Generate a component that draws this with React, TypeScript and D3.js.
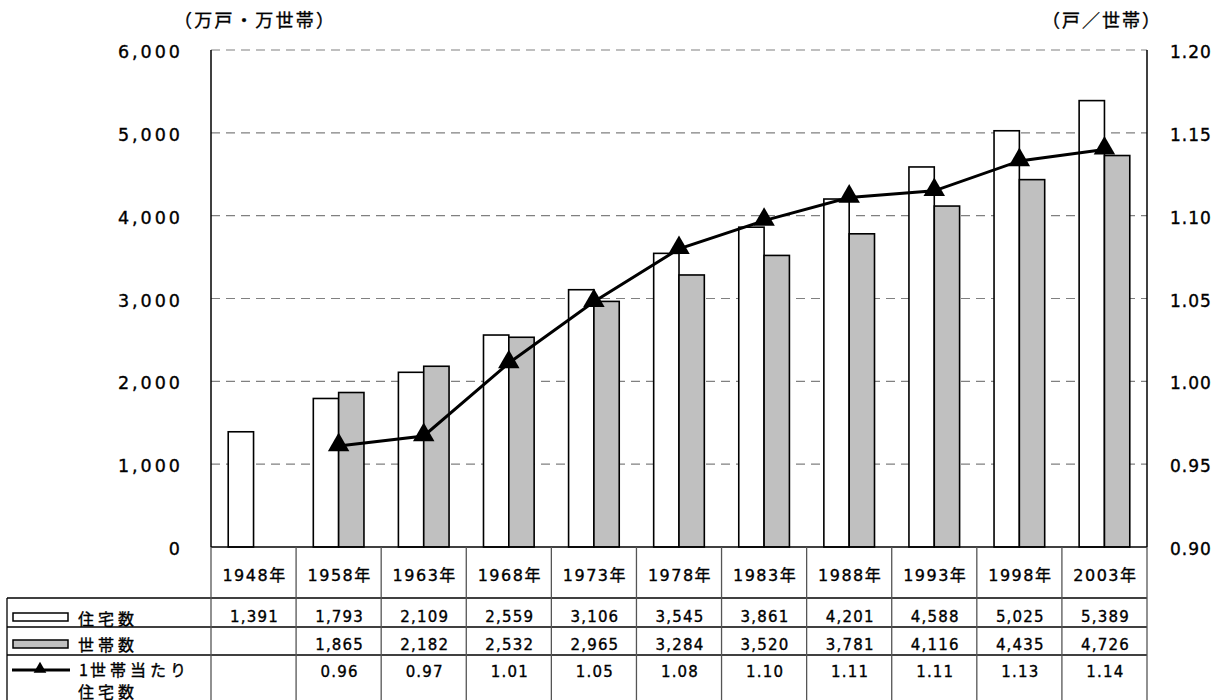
import React from "react";
import * as d3 from "d3";

const years = ["1948年", "1958年", "1963年", "1968年", "1973年", "1978年", "1983年", "1988年", "1993年", "1998年", "2003年"];
const houses: (number | null)[] = [1391, 1793, 2109, 2559, 3106, 3545, 3861, 4201, 4588, 5025, 5389];
const households: (number | null)[] = [null, 1865, 2182, 2532, 2965, 3284, 3520, 3781, 4116, 4435, 4726];
const ratio: (number | null)[] = [null, 0.961, 0.967, 1.011, 1.048, 1.080, 1.097, 1.111, 1.115, 1.133, 1.140];
const ratioLabels = ["", "0.96", "0.97", "1.01", "1.05", "1.08", "1.10", "1.11", "1.11", "1.13", "1.14"];
const leftTicks = [0, 1000, 2000, 3000, 4000, 5000, 6000];
const rightTicks = [0.9, 0.95, 1.0, 1.05, 1.1, 1.15, 1.2];

const W = 1227, H = 700;
const L = 211, R = 1147, T = 50, B = 547;
const FONT = "'DejaVu Sans', 'Noto Sans CJK JP', sans-serif";
const JFONT = "'Noto Sans CJK JP', sans-serif";

export default function App() {
  const x = d3.scaleBand<string>().domain(years).range([L, R]).padding(0);
  const x1 = d3.scaleBand<string>().domain(["h", "hh"]).range([0, x.bandwidth()]).paddingInner(0).paddingOuter(0.68);
  const y = d3.scaleLinear().domain([0, 6000]).range([B, T]);
  const y2 = d3.scaleLinear().domain([0.9, 1.2]).range([B, T]);

  const pts = years
    .map((yr, i) => ({ yr, v: ratio[i] }))
    .filter((d) => d.v != null) as { yr: string; v: number }[];
  const line = d3
    .line<{ yr: string; v: number }>()
    .x((d) => (x(d.yr) as number) + x.bandwidth() / 2)
    .y((d) => y2(d.v));
  const tri = d3.symbol().type(d3.symbolTriangle).size(200)();
  const triSmall = d3.symbol().type(d3.symbolTriangle).size(70)();

  const fmt = d3.format(",");
  const tw = { stroke: "#000", strokeWidth: 0.35 };

  return (
    <div style={{ position: "absolute", left: 0, top: 0 }}>
      <svg width={W} height={H} style={{ display: "block", background: "#fff" }}>
        {/* units */}
        <text x={174} y={27} fontFamily={JFONT} fontSize={18} letterSpacing={2.3} fill="#000" {...tw}>（万戸・万世帯）</text>
        <text x={1042} y={27} fontFamily={JFONT} fontSize={18} letterSpacing={2} fill="#000" {...tw}>（戸／世帯）</text>

        {/* grid */}
        {leftTicks.filter((t) => t > 0).map((t) => (
          <line key={t} x1={L} x2={R} y1={y(t)} y2={y(t)} stroke="#808080" strokeWidth={1.2} strokeDasharray="9,6" />
        ))}

        {/* left axis labels */}
        {leftTicks.map((t) => (
          <text key={t} x={183} y={y(t) + 8} textAnchor="end" fontFamily={FONT} fontSize={17.5} letterSpacing={3} fill="#000" {...tw}>
            {fmt(t)}
          </text>
        ))}
        {rightTicks.map((t) => (
          <text key={t} x={1170} y={y2(t) + 8} textAnchor="start" fontFamily={FONT} fontSize={17} letterSpacing={1} fill="#000" {...tw}>
            {t.toFixed(2)}
          </text>
        ))}

        {/* bars */}
        {years.map((yr, i) => {
          const gx = x(yr) as number;
          return (
            <g key={yr}>
              {houses[i] != null && (
                <rect x={gx + (x1("h") as number)} y={y(houses[i] as number)} width={x1.bandwidth()} height={B - y(houses[i] as number)} fill="#fff" stroke="#000" strokeWidth={1.6} />
              )}
              {households[i] != null && (
                <rect x={gx + (x1("hh") as number)} y={y(households[i] as number)} width={x1.bandwidth()} height={B - y(households[i] as number)} fill="#c0c0c0" stroke="#000" strokeWidth={1.6} />
              )}
            </g>
          );
        })}

        {/* axes */}
        <line x1={L} x2={L} y1={T} y2={B} stroke="#000" strokeWidth={1.5} />
        <line x1={R} x2={R} y1={T} y2={B} stroke="#000" strokeWidth={1.5} />
        <line x1={L} x2={R} y1={B} y2={B} stroke="#000" strokeWidth={1.5} />

        {/* ratio line */}
        <path d={line(pts) || ""} fill="none" stroke="#000" strokeWidth={3} />
        {pts.map((p) => (
          <path key={p.yr} d={tri || ""} transform={`translate(${(x(p.yr) as number) + x.bandwidth() / 2},${y2(p.v) - 1})`} fill="#000" />
        ))}

        {/* table */}
        {[598, 627, 655].map((yy) => (
          <line key={yy} x1={7} x2={R} y1={yy} y2={yy} stroke="#000" strokeWidth={1.3} />
        ))}
        <line x1={7} x2={7} y1={598} y2={H} stroke="#000" strokeWidth={1.3} />
        {years.map((yr) => (
          <line key={yr} x1={x(yr)} x2={x(yr)} y1={B} y2={H} stroke="#555" strokeWidth={1.3} />
        ))}
        <line x1={R} x2={R} y1={B} y2={H} stroke="#555" strokeWidth={1.3} />

        {years.map((yr, i) => {
          const cx = (x(yr) as number) + x.bandwidth() / 2;
          return (
            <g key={yr} fontFamily={FONT} fontSize={15} fill="#000" textAnchor="middle" {...tw}>
              <text x={cx + 1} y={581} fontSize={16} letterSpacing={1.5}>{yr}</text>
              <text x={cx + 1} y={622} letterSpacing={1.2}>{houses[i] != null ? fmt(houses[i] as number) : ""}</text>
              <text x={cx + 1} y={650} letterSpacing={1.2}>{households[i] != null ? fmt(households[i] as number) : ""}</text>
              <text x={cx + 1} y={677} letterSpacing={1.2}>{ratioLabels[i]}</text>
            </g>
          );
        })}

        {/* legend column */}
        <rect x={13} y={613} width={55} height={8} fill="#fff" stroke="#000" strokeWidth={1.5} />
        <text x={78} y={625} fontFamily={JFONT} fontSize={16} letterSpacing={4} fill="#000" {...tw}>住宅数</text>
        <rect x={13} y={640} width={55} height={8} fill="#c0c0c0" stroke="#000" strokeWidth={1.5} />
        <text x={78} y={651} fontFamily={JFONT} fontSize={16} letterSpacing={4} fill="#000" {...tw}>世帯数</text>
        <line x1={12} x2={70} y1={670} y2={670} stroke="#000" strokeWidth={3} />
        <path d={triSmall || ""} transform="translate(40,669)" fill="#000" />
        <text y={676} fontFamily={JFONT} fontSize={16} letterSpacing={4} fill="#000" {...tw}>
          <tspan x={79}>1</tspan>
          <tspan x={90}>世帯当たり</tspan>
        </text>
        <text x={78} y={698} fontFamily={JFONT} fontSize={16} letterSpacing={4} fill="#000" {...tw}>住宅数</text>
      </svg>
    </div>
  );
}
